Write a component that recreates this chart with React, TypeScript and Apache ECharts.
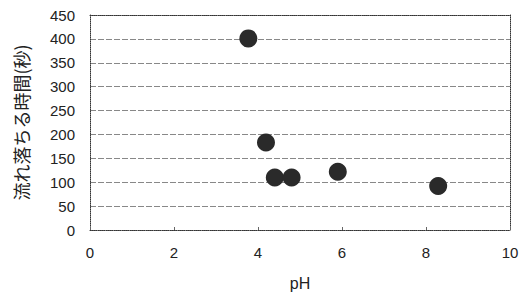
import React, { useEffect, useRef } from "react";
import * as echarts from "echarts";

const phValues = [3.77, 4.19, 4.4, 4.8, 5.9, 8.29];
const timeValues = [401, 183, 110, 110, 122, 92];
const xTitle = "pH";
const yTitle = "流れ落ちる時間(秒)";

export default function App() {
  const ref = useRef<HTMLDivElement>(null);
  useEffect(() => {
    if (!ref.current) return;
    const chart = echarts.init(ref.current, undefined, { renderer: "svg" });
    const border = { show: true, lineStyle: { color: "#333", width: 1, type: "dotted" as const } };
    chart.setOption({
      animation: false,
      backgroundColor: "#fff",
      grid: { left: 90, right: 13, top: 15, bottom: 66 },
      xAxis: [
        {
          type: "value",
          min: 0,
          max: 10,
          interval: 2,
          name: xTitle,
          nameLocation: "middle",
          nameGap: 45,
          nameTextStyle: { fontFamily: "Liberation Sans", fontSize: 16, color: "#222" },
          axisLine: { ...border, onZero: false },
          axisTick: { show: true, inside: true, length: 3, lineStyle: { color: "#666" } },
          axisLabel: { fontFamily: "Liberation Sans", fontSize: 15, color: "#222", margin: 15 },
          splitLine: { show: false },
        },
        {
          type: "value",
          position: "top",
          min: 0,
          max: 10,
          interval: 2,
          axisLine: { ...border, onZero: false },
          axisTick: { show: false },
          axisLabel: { show: false },
          splitLine: { show: false },
        },
      ],
      yAxis: [
        {
          type: "value",
          min: 0,
          max: 450,
          interval: 50,
          name: yTitle,
          nameLocation: "middle",
          nameRotate: 90,
          nameGap: 60,
          nameTextStyle: { fontFamily: "Noto Sans CJK JP", fontSize: 18, color: "#222" },
          axisLine: { ...border, onZero: false },
          axisTick: { show: false },
          axisLabel: { fontFamily: "Liberation Sans", fontSize: 15, color: "#222", margin: 15 },
          splitLine: { show: true, lineStyle: { color: "#888", width: 1, type: [6, 2] } },
        },
        {
          type: "value",
          position: "right",
          min: 0,
          max: 450,
          interval: 50,
          axisLine: { ...border, onZero: false },
          axisTick: { show: false },
          axisLabel: { show: false },
          splitLine: { show: false },
        },
      ],
      series: [
        {
          type: "scatter",
          symbol: "circle",
          symbolSize: 18,
          itemStyle: { color: "#2a2a2a", opacity: 1 },
          data: phValues.map((x, i) => [x, timeValues[i]]),
        },
      ],
    });
    return () => chart.dispose();
  }, []);
  return <div ref={ref} style={{ width: 523, height: 296, position: "absolute", left: 0, top: 0 }} />;
}
